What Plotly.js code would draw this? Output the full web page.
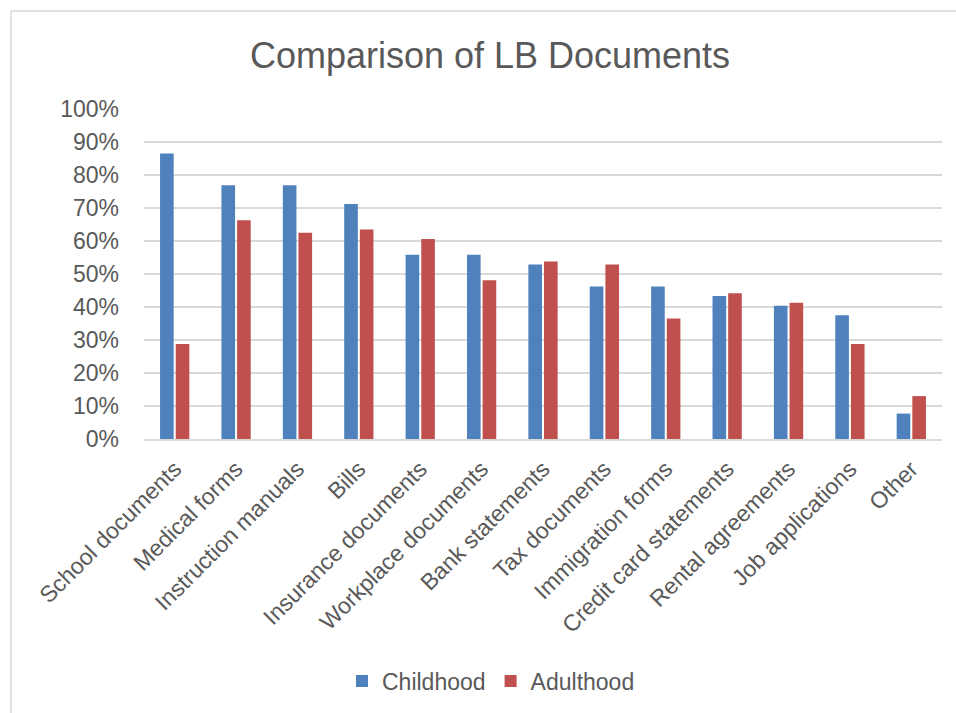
<!DOCTYPE html>
<html>
<head>
<meta charset="utf-8">
<script src="https://cdn.plot.ly/plotly-3.0.1.min.js"></script>
<style>
  html, body { margin: 0; padding: 0; background: #fff; }
  #chart { width: 956px; height: 713px; }
</style>
</head>
<body>
<div id="chart"></div>
<script>
// Document types, shares of respondents (%)
const categories = [
  "School documents", "Medical forms", "Instruction manuals", "Bills",
  "Insurance documents", "Workplace documents", "Bank statements",
  "Tax documents", "Immigration forms", "Credit card statements",
  "Rental agreements", "Job applications", "Other"
];
const childhood = [86.5, 76.9, 76.9, 71.2, 55.8, 55.8, 52.9, 46.2, 46.2, 43.3, 40.4, 37.5, 7.7];
const adulthood = [28.8, 66.3, 62.5, 63.5, 60.6, 48.1, 53.8, 52.9, 36.5, 44.2, 41.3, 28.8, 13.0];
const seriesNames = ["Childhood", "Adulthood"];
const yTicks = [0, 10, 20, 30, 40, 50, 60, 70, 80, 90, 100];
const yTickLabels = ["0%", "10%", "20%", "30%", "40%", "50%", "60%", "70%", "80%", "90%", "100%"];

const W = 956, H = 713;
const M = { l: 144, r: 14, t: 109, b: 274 };
const pw = W - M.l - M.r, ph = H - M.t - M.b;
// pixel -> paper helpers for the chart-area frame
const px = x => (x - M.l) / pw;
const py = y => (H - M.b - y) / ph;

const textColor = "#595959";
const gridColor = "#D9D9D9";
const font = "Liberation Sans, Arial, sans-serif";

const traces = [
  { type: "bar", name: seriesNames[0], x: categories, y: childhood,
    marker: { color: "#4F81BD" } },
  { type: "bar", name: seriesNames[1], x: categories, y: adulthood,
    marker: { color: "#C0504D" } }
];

const layout = {
  width: W, height: H,
  margin: M,
  paper_bgcolor: "#fff", plot_bgcolor: "#fff",
  font: { family: font, color: textColor, size: 23 },
  title: {
    text: "Comparison of LB Documents",
    font: { family: font, size: 36, color: textColor },
    x: 490 / W, xanchor: "center", xref: "container",
    y: 1 - 55 / H, yanchor: "middle", yref: "container"
  },
  barmode: "group",
  bargap: 0.49,
  bargroupgap: 0.13,
  xaxis: {
    type: "category",
    tickangle: -45,
    ticks: "",
    showgrid: false,
    showline: true, linecolor: gridColor, linewidth: 1.5,
    ticklabelstandoff: 6,
    tickfont: { size: 23, color: textColor }
  },
  yaxis: {
    range: [0, 100],
    tickmode: "array",
    tickvals: yTicks,
    ticktext: yTickLabels,
    ticks: "",
    showgrid: true, gridcolor: gridColor, gridwidth: 1.5,
    zeroline: false, showline: false,
    ticklabelstandoff: 24,
    tickfont: { size: 23, color: textColor }
  },
  showlegend: true,
  legend: {
    orientation: "h",
    xref: "container", x: 491 / W, xanchor: "center",
    yref: "container", y: 1 - 681 / H, yanchor: "middle",
    font: { size: 23, color: textColor },
    itemwidth: 30
  },
  shapes: [
    { type: "line", xref: "paper", yref: "paper",
      x0: px(11), y0: py(11), x1: px(W), y1: py(11),
      line: { color: gridColor, width: 1.5 } },
    { type: "line", xref: "paper", yref: "paper",
      x0: px(11), y0: py(11), x1: px(11), y1: py(H),
      line: { color: gridColor, width: 1.5 } }
  ]
};

Plotly.newPlot("chart", traces, layout, { displayModeBar: false, staticPlot: true });
</script>
</body>
</html>
